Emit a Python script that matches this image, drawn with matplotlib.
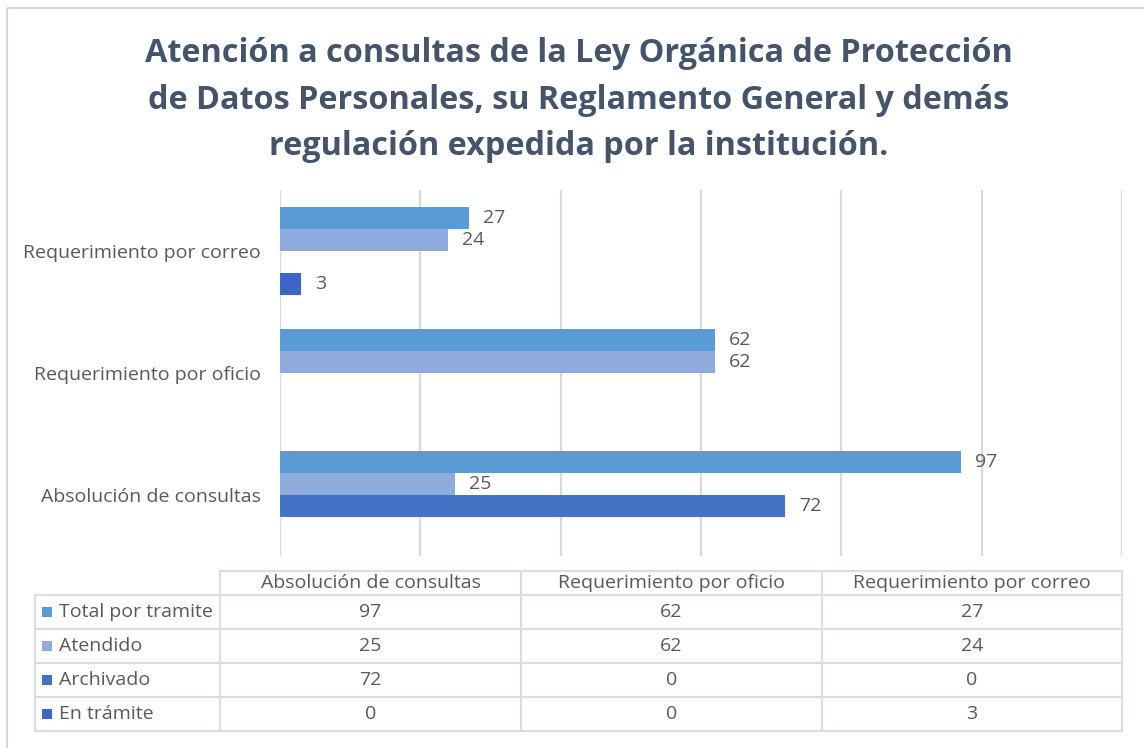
import numpy as np
import matplotlib.pyplot as plt
from matplotlib.patches import Rectangle

plt.rcParams['font.family'] = ['Open Sans', 'DejaVu Sans']

# data
categories = ['Absolución de consultas', 'Requerimiento por oficio', 'Requerimiento por correo']
series = ['Total por tramite', 'Atendido', 'Archivado', 'En trámite']
total = [97, 62, 27]
atendido = [25, 62, 24]
archivado = [72, 0, 0]
en_tramite = [0, 0, 3]
values = [total, atendido, archivado, en_tramite]
colors = ['#5B9BD5', '#8FAADC', '#4472C4', '#3A66C6']

title = ('Atención a consultas de la Ley Orgánica de Protección\n'
         'de Datos Personales, su Reglamento General y demás\n'
         'regulación expedida por la institución.')

W, H = 1144, 748
txt = '#595959'
grid = '#D9D9D9'
fs = 14

fig = plt.figure(figsize=(W / 100, H / 100), dpi=100)

# background axes in pixel units (border + data table)
bg = fig.add_axes([0, 0, 1, 1])
bg.set_xlim(0, W)
bg.set_ylim(H, 0)
bg.axis('off')
bg.add_patch(Rectangle((7, 8), W + 20, H + 20, fill=False, edgecolor='#D9D9D9', lw=1.5))

bg.text(579, 100, title, ha='center', va='center', fontsize=23.3, fontweight='bold',
        color='#44546A', linespacing=1.54)

# --- bar chart ---
x0, x1, y0, y1 = 280, 1122, 190, 556
ax = fig.add_axes([x0 / W, 1 - y1 / H, (x1 - x0) / W, (y1 - y0) / H])
ax.patch.set_alpha(0)
h = 0.18
offsets = [1.5 * h, 0.5 * h, -0.5 * h, -1.5 * h]
ypos = np.arange(len(categories))
for vals, off, c in zip(values, offsets, colors):
    bars = ax.barh(ypos + off, vals, height=h, color=c, lw=0, zorder=3)
    for b, v in zip(bars, vals):
        if v > 0:
            ax.annotate(str(v), (v, b.get_y() + h / 2), xytext=(10, 0), textcoords='offset points',
                        ha='left', va='center', fontsize=fs, color=txt)
ax.set_xlim(0, 120)
ax.set_ylim(-0.5, 2.5)
ax.set_xticks(np.arange(0, 121, 20))
ax.set_xticklabels([])
ax.grid(axis='x', color=grid, lw=1.6, zorder=0)
ax.tick_params(length=0, pad=14)
ax.set_yticks(ypos)
ax.set_yticklabels(categories, fontsize=fs, color=txt)
for s in ax.spines.values():
    s.set_visible(False)

# --- data table ---
col_edges = [220, 521, 822, 1122]
row_edges = [595, 629, 663, 697, 731]
lab_left = 35
tl = dict(color='#D9DEE6', lw=1.5)
bg.plot([col_edges[0], col_edges[-1]], [571, 571], **tl)
bg.plot([lab_left, col_edges[-1]], [row_edges[0]] * 2, **tl)
for r in row_edges[1:]:
    bg.plot([lab_left, col_edges[-1]], [r, r], **tl)
for c in col_edges:
    bg.plot([c, c], [571, row_edges[-1]], **tl)
bg.plot([lab_left, lab_left], [row_edges[0], row_edges[-1]], **tl)

for j, cat in enumerate(categories):
    cx = (col_edges[j] + col_edges[j + 1]) / 2
    bg.text(cx, 583, cat, ha='center', va='center', fontsize=fs, color=txt)
for i, (name, vals, c) in enumerate(zip(series, values, colors)):
    cy = (row_edges[i] + row_edges[i + 1]) / 2
    bg.add_patch(Rectangle((42, cy - 5), 10, 10, color=c, lw=0))
    bg.text(59, cy, name, ha='left', va='center', fontsize=fs, color=txt)
    for j, v in enumerate(vals):
        cx = (col_edges[j] + col_edges[j + 1]) / 2
        bg.text(cx, cy, str(v), ha='center', va='center', fontsize=fs, color=txt)

fig.savefig('out.png', dpi=100)
